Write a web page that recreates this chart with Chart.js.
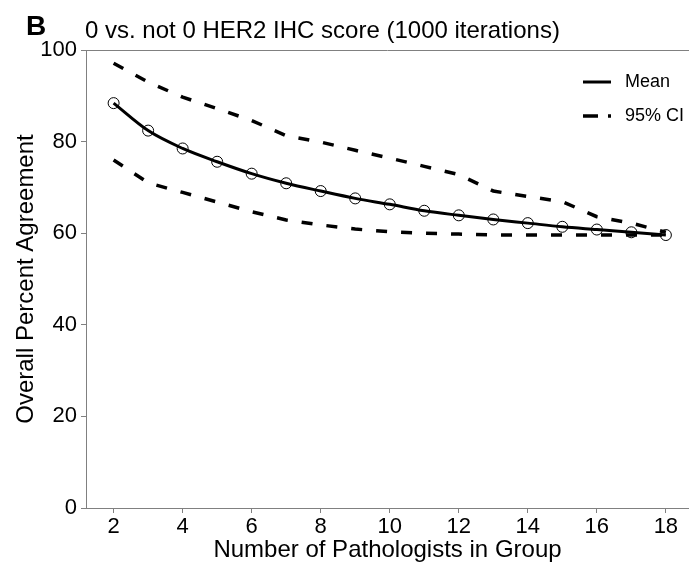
<!DOCTYPE html>
<html>
<head>
<meta charset="utf-8">
<script src="https://cdn.jsdelivr.net/npm/chart.js@4.4.1/dist/chart.umd.min.js"></script>
<style>
  html, body { margin: 0; padding: 0; background: #fff; }
  #wrap { width: 689px; height: 566px; }
</style>
</head>
<body>
<div id="wrap"><canvas id="chart" width="689" height="566"></canvas></div>
<script>
// data
const groupSizes = [2, 3, 4, 5, 6, 7, 8, 9, 10, 11, 12, 13, 14, 15, 16, 17, 18];
const meanAgreement = [88.4, 82.4, 78.5, 75.6, 73.0, 70.9, 69.2, 67.6, 66.3, 64.9, 63.9, 63.0, 62.2, 61.4, 60.8, 60.2, 59.6];
const upperCI = [97.1, 93.0, 89.7, 87.2, 84.6, 81.3, 79.9, 78.1, 76.4, 74.6, 72.8, 69.2, 68.0, 66.9, 63.6, 62.2, 60.2];
const lowerCI = [76.0, 71.0, 68.9, 66.8, 64.7, 62.9, 61.8, 60.9, 60.3, 60.0, 59.8, 59.6, 59.6, 59.6, 59.6, 59.6, 59.6];
const xTickValues = [2, 4, 6, 8, 10, 12, 14, 16, 18];
const yTickValues = [0, 20, 40, 60, 80, 100];

const FONT = "'Liberation Sans', Arial, Helvetica, sans-serif";
const AXIS_GRAY = '#808080';

const toPoints = (ys) => groupSizes.map((x, i) => ({ x, y: ys[i] }));

// panel letter, title, top frame line and the legend
const decorations = {
  id: 'decorations',
  afterDraw(chart) {
    const { ctx, chartArea } = chart;
    ctx.save();
    ctx.fillStyle = '#000';
    ctx.textBaseline = 'alphabetic';
    ctx.textAlign = 'left';
    ctx.font = 'bold 28px ' + FONT;
    ctx.fillText('B', 26, 35);
    ctx.font = '24px ' + FONT;
    ctx.fillText('0 vs. not 0 HER2 IHC score (1000 iterations)', 85, 38);

    ctx.strokeStyle = AXIS_GRAY;
    ctx.lineWidth = 1;
    ctx.beginPath();
    ctx.moveTo(chartArea.left, chartArea.top + 0.5);
    ctx.lineTo(chartArea.right, chartArea.top + 0.5);
    ctx.stroke();

    // legend
    ctx.strokeStyle = '#000';
    ctx.lineWidth = 3;
    ctx.beginPath();
    ctx.moveTo(583, 82);
    ctx.lineTo(611, 82);
    ctx.stroke();
    ctx.lineWidth = 3.5;
    ctx.setLineDash([15, 10]);
    ctx.beginPath();
    ctx.moveTo(583, 116);
    ctx.lineTo(611, 116);
    ctx.stroke();
    ctx.setLineDash([]);
    ctx.font = '18px ' + FONT;
    ctx.textBaseline = 'middle';
    ctx.fillText('Mean', 625, 82);
    ctx.fillText('95% CI', 625, 116);
    ctx.restore();
  }
};

new Chart(document.getElementById('chart'), {
  type: 'line',
  data: {
    datasets: [
      {
        label: 'Mean',
        data: toPoints(meanAgreement),
        borderColor: '#000',
        borderWidth: 3,
        cubicInterpolationMode: 'monotone',
        pointRadius: 5.5,
        pointBorderWidth: 1,
        pointBorderColor: '#000',
        pointBackgroundColor: 'rgba(0,0,0,0)'
      },
      {
        label: '95% CI upper',
        data: toPoints(upperCI),
        borderColor: '#000',
        borderWidth: 3.5,
        borderDash: [11, 14],
        pointRadius: 0
      },
      {
        label: '95% CI lower',
        data: toPoints(lowerCI),
        borderColor: '#000',
        borderWidth: 3.5,
        borderDash: [11, 14],
        pointRadius: 0
      }
    ]
  },
  options: {
    responsive: false,
    animation: false,
    layout: { autoPadding: false, padding: { top: 50, right: 0, bottom: 0, left: 0 } },
    plugins: {
      legend: { display: false },
      tooltip: { enabled: false }
    },
    scales: {
      x: {
        type: 'linear',
        min: 1.2,
        max: 18.67,
        afterFit: (axis) => { axis.height = 58; },
        afterBuildTicks: (axis) => { axis.ticks = xTickValues.map(v => ({ value: v })); },
        grid: { drawOnChartArea: false, drawTicks: true, tickLength: 5, color: AXIS_GRAY },
        border: { color: AXIS_GRAY, width: 1 },
        ticks: { color: '#000', font: { family: FONT, size: 22 }, padding: 1, maxRotation: 0 },
        title: {
          display: true,
          text: 'Number of Pathologists in Group',
          color: '#000',
          font: { family: FONT, size: 24 },
          padding: { top: 0, bottom: 1 }
        }
      },
      y: {
        min: 0,
        max: 100,
        afterFit: (axis) => { axis.width = 86; },
        afterBuildTicks: (axis) => { axis.ticks = yTickValues.map(v => ({ value: v })); },
        grid: { drawOnChartArea: false, drawTicks: true, tickLength: 5, color: AXIS_GRAY },
        border: { color: AXIS_GRAY, width: 1 },
        ticks: { color: '#000', font: { family: FONT, size: 22 }, padding: 4 },
        title: {
          display: true,
          text: 'Overall Percent Agreement',
          color: '#000',
          font: { family: FONT, size: 24 },
          padding: { top: 12, bottom: 0 }
        }
      }
    }
  },
  plugins: [decorations]
});
</script>
</body>
</html>
